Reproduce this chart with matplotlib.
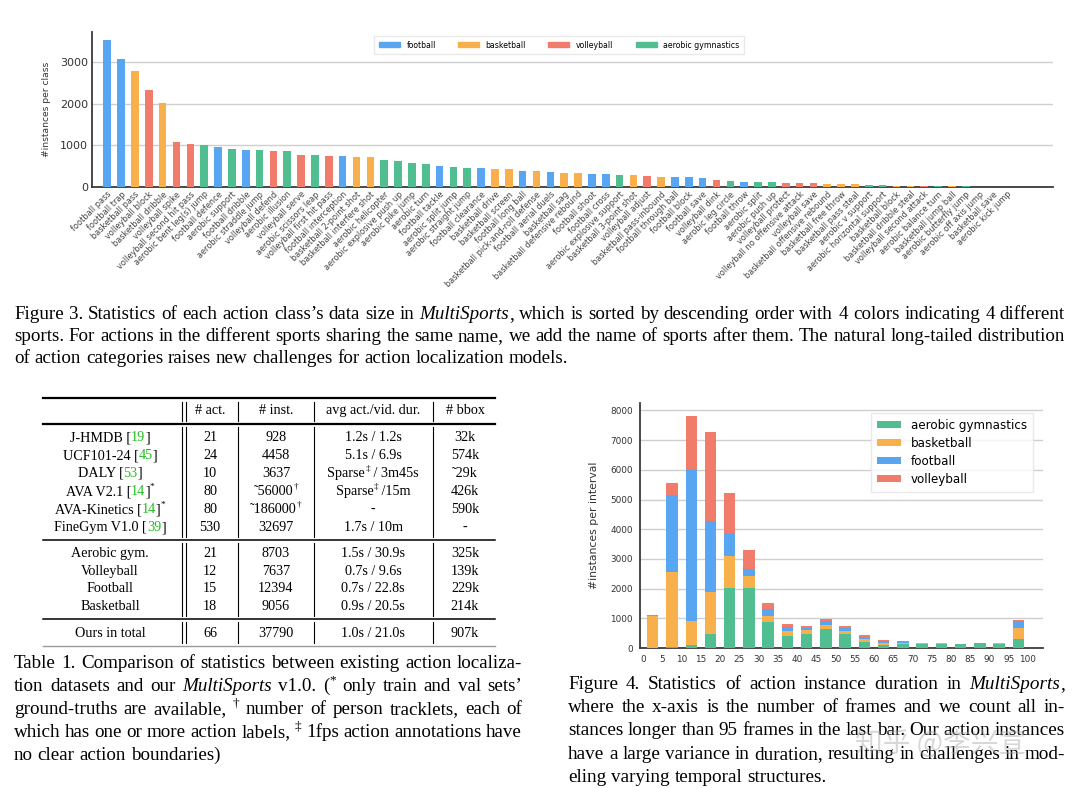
import matplotlib
matplotlib.use("Agg")
import matplotlib.pyplot as plt
import numpy as np
from matplotlib.patches import Patch
from matplotlib.font_manager import FontProperties, findfont

W, H = 1080, 788

# colores de los deportes
COL = {"F": "#58a6f2", "B": "#f8b04c", "V": "#f17c6b", "A": "#50be91"}
SPORT_NAME = {"F": "football", "B": "basketball", "V": "volleyball", "A": "aerobic gymnastics"}

# ── Figura 3: instancias por clase ──────────────────────────────────────────
clases = [
    "football pass", "football trap", "basketball pass", "volleyball block",
    "basketball dribble", "volleyball spike", "volleyball second hit pass",
    "aerobic bent leg(s) jump", "football defence", "aerobic support",
    "football dribble", "aerobic straddle jump", "volleyball defend",
    "aerobic illusion", "volleyball serve", "aerobic scissors leap",
    "volleyball first hit pass", "football interception", "basketball 2-point shot",
    "basketball interfere shot", "aerobic helicopter", "aerobic explosive push up",
    "aerobic pike jump", "aerobic turn", "football tackle", "aerobic split jump",
    "aerobic straight jump", "football clearance", "basketball drive",
    "basketball screen", "football long ball", "basketball pick-and-roll defense",
    "football aerial duels", "basketball sag", "basketball defensive rebound",
    "football shoot", "football cross", "aerobic explosive support",
    "basketball 3-point shot", "volleyball adjust", "basketball pass-inbound",
    "football through ball", "football block", "football save", "volleyball dink",
    "aerobic leg circle", "football throw", "aerobic split", "aerobic push up",
    "volleyball protect", "volleyball no offensive attack", "volleyball save",
    "basketball offensive rebound", "basketball free throw", "basketball pass steal",
    "aerobic v support", "aerobic horizontal support", "basketball block",
    "basketball dribble steal", "volleyball second attack", "aerobic balance turn",
    "basketball jump ball", "aerobic butterfly jump", "aerobic off axis jump",
    "basketball save", "aerobic kick jump",
]
deporte = list("FFBVBVVAFAFAVAVAVFBBAAAAFAAFBBFBFBBFFABVBFFFVAFAAVVVBBBAABBVABAABA")
instancias = [
    3530, 3080, 2785, 2320, 2015, 1070, 1025, 1000, 960, 905,
    888, 885, 865, 862, 776, 768, 752, 736, 712, 710,
    648, 616, 584, 552, 504, 480, 464, 448, 440, 424,
    392, 384, 366, 342, 336, 322, 320, 300, 295, 262,
    242, 240, 238, 225, 180, 145, 122, 116, 114, 100,
    95, 86, 80, 66, 64, 55, 50, 36, 32, 30,
    25, 20, 16, 12, 10, 8,
]

# ── Figura 4: duración de las instancias (pila por deporte) ────────────────
bins = list(range(0, 100, 5))
aerobic = [10, 20, 90, 480, 2020, 2020, 860, 400, 460, 655, 480, 200, 115, 140, 150, 145, 130, 155, 150, 300]
basket = [1060, 2540, 810, 1405, 1080, 390, 230, 175, 140, 115, 95, 90, 55, 20, 10, 10, 8, 10, 8, 380]
futbol = [20, 2580, 5080, 2390, 770, 260, 210, 130, 90, 130, 90, 80, 55, 50, 10, 8, 7, 10, 7, 240]
voley = [10, 415, 1830, 3000, 1350, 640, 215, 100, 60, 80, 60, 55, 30, 25, 10, 7, 5, 5, 5, 10]
ticks4 = list(range(0, 101, 5))

# ── Tabla 1 ────────────────────────────────────────────────────────────────
encabezado = ["# act.", "# inst.", "avg act./vid. dur.", "# bbox"]
nombres = [
    [("J-HMDB [", "k"), ("19", "g"), ("]", "k")],
    [("UCF101-24 [", "k"), ("45", "g"), ("]", "k")],
    [("DALY [", "k"), ("53", "g"), ("]", "k")],
    [("AVA V2.1 [", "k"), ("14", "g"), ("]", "k"), ("*", "s")],
    [("AVA-Kinetics [", "k"), ("14", "g"), ("]", "k"), ("*", "s")],
    [("FineGym V1.0 [", "k"), ("39", "g"), ("]", "k")],
    [("Aerobic gym.", "k")],
    [("Volleyball", "k")],
    [("Football", "k")],
    [("Basketball", "k")],
    [("Ours in total", "k")],
]
n_act = ["21", "24", "10", "80", "80", "530", "21", "12", "15", "18", "66"]
n_inst = [[("928", "k")], [("4458", "k")], [("3637", "k")],
          [("˜56000", "k"), ("†", "s")], [("˜186000", "k"), ("†", "s")],
          [("32697", "k")], [("8703", "k")], [("7637", "k")], [("12394", "k")],
          [("9056", "k")], [("37790", "k")]]
dur = [[("1.2s / 1.2s", "k")], [("5.1s / 6.9s", "k")],
       [("Sparse", "k"), ("‡", "s"), (" / 3m45s", "k")],
       [("Sparse", "k"), ("‡", "s"), (" /15m", "k")],
       [("-", "k")], [("1.7s / 10m", "k")], [("1.5s / 30.9s", "k")],
       [("0.7s / 9.6s", "k")], [("0.7s / 22.8s", "k")], [("0.9s / 20.5s", "k")],
       [("1.0s / 21.0s", "k")]]
bbox = ["32k", "574k", "˜29k", "426k", "590k", "-", "325k", "139k", "229k", "214k", "907k"]

cap3 = [
    "Figure 3. Statistics of each action class’s data size in MultiSports, which is sorted by descending order with 4 colors indicating 4 different",
    "sports. For actions in the different sports sharing the same name, we add the name of sports after them. The natural long-tailed distribution",
    "of action categories raises new challenges for action localization models.",
]
cap_t1 = [
    "Table 1. Comparison of statistics between existing action localiza-",
    "tion datasets and our MultiSports v1.0. (* only train and val sets’",
    "ground-truths are available, ^† number of person tracklets, each of",
    "which has one or more action labels, ^‡ 1fps action annotations have",
    "no clear action boundaries)",
]
cap4 = [
    "Figure 4. Statistics of action instance duration in MultiSports,",
    "where the x-axis is the number of frames and we count all in-",
    "stances longer than 95 frames in the last bar. Our action instances",
    "have a large variance in duration, resulting in challenges in mod-",
    "eling varying temporal structures.",
]

# fuentes fijadas por archivo para que no haya sustituciones
F_NORMAL = findfont(FontProperties(family="Liberation Serif"))
F_ITALIC = findfont(FontProperties(family="Liberation Serif", style="italic"))

fig = plt.figure(figsize=(W / 100, H / 100), dpi=100)
fig.patch.set_facecolor("white")
rend = fig.canvas.get_renderer()


def fx(x):
    return x / W


def fy(y):
    return 1 - y / H


def estilo_ejes(ax):
    ax.set_facecolor("white")
    for s in ["top", "right"]:
        ax.spines[s].set_visible(False)
    for s in ["left", "bottom"]:
        ax.spines[s].set_color("#3a3a3a")
        ax.spines[s].set_linewidth(1.3)
    ax.grid(True, axis="y", color="#cfcfcf", linewidth=1.0)
    ax.set_axisbelow(True)
    ax.tick_params(length=0, colors="#333333")


# ── dibujo figura 3 ────────────────────────────────────────────────────────
ax3 = fig.add_axes([fx(92), fy(187), (1053 - 92) / W, (187 - 32) / H])
estilo_ejes(ax3)
xs = np.arange(len(clases))
ax3.bar(xs, instancias, width=0.55, color=[COL[d] for d in deporte], zorder=3)
ax3.set_xlim(-1.1, 68.3)
ax3.set_ylim(0, 3720)
ax3.set_yticks([0, 1000, 2000, 3000])
ax3.tick_params(axis="y", labelsize=8, pad=3)
ax3.set_xticks(xs)
ax3.set_xticklabels(clases, rotation=45, ha="right", rotation_mode="anchor",
                    fontsize=5.9, color="#444444")
ax3.tick_params(axis="x", pad=2)
ax3.set_ylabel("#instances per class", fontsize=6.6, color="#333333", labelpad=6)
ax3.legend(handles=[Patch(color=COL[k], label=SPORT_NAME[k]) for k in "FBVA"],
           loc="upper center", bbox_to_anchor=(0.486, 1.0), ncol=4, fontsize=5.6,
           handlelength=2.7, handleheight=0.6, columnspacing=2.9, frameon=True,
           edgecolor="#e4e4e4", fancybox=False, borderpad=0.6)

# ── dibujo figura 4 ────────────────────────────────────────────────────────
ax4 = fig.add_axes([fx(640), fy(648), (1043 - 640) / W, (648 - 403) / H])
estilo_ejes(ax4)
centros = np.array(bins) + 2.5
base = np.zeros(len(bins))
for vals, k in [(aerobic, "A"), (basket, "B"), (futbol, "F"), (voley, "V")]:
    ax4.bar(centros, vals, width=2.95, bottom=base, color=COL[k],
            label=SPORT_NAME[k], zorder=3)
    base = base + np.array(vals)
ax4.set_xlim(-0.8, 103.9)
ax4.set_ylim(0, 8250)
ax4.set_xticks(ticks4)
ax4.set_yticks(range(0, 8001, 1000))
ax4.tick_params(axis="both", labelsize=6.4, pad=5)
ax4.set_ylabel("#instances per interval", fontsize=7.8, color="#333333", labelpad=8)
ax4.legend(loc="upper right", bbox_to_anchor=(0.99, 0.985), fontsize=8.6,
           handlelength=2.0, handleheight=0.6, labelspacing=0.42, frameon=True,
           edgecolor="#e4e4e4", fancybox=False, borderpad=0.5)


# ── texto del artículo ─────────────────────────────────────────────────────
def prop(size, italic=False):
    return FontProperties(fname=F_ITALIC if italic else F_NORMAL, size=size)


def medir(txt, size, italic=False):
    w, _, _ = rend.get_text_width_height_descent(txt, prop(size, italic), ismath=False)
    return w


def partes(tok):
    if tok.startswith("MultiSports"):
        out = [("MultiSports", "i")]
        if len(tok) > 11:
            out.append((tok[11:], "n"))
        return out
    if tok.startswith("^"):
        return [(tok[1:], "s")]
    if tok == "(*":
        return [("(", "n"), ("*", "s")]
    return [(tok, "n")]


def piezas_linea(linea, size):
    grupos, anchos = [], []
    for tok in linea.split():
        g, w = [], 0
        for txt, st in partes(tok):
            sz = size * (0.7 if st == "s" else 1)
            g.append((txt, st, sz, w))
            w += medir(txt, sz, st == "i")
        grupos.append(g)
        anchos.append(w)
    return grupos, anchos


def parrafo(lineas, x0, x1, y0, dy, size):
    # ajusta el tamaño para que la línea más apretada tenga espacio normal
    k = 1.0
    em = size * 100 / 72
    for linea in lineas[:-1]:
        grupos, anchos = piezas_linea(linea, size)
        k = min(k, (x1 - x0) / (sum(anchos) + 0.24 * em * (len(grupos) - 1)))
    size = size * k
    em = size * 100 / 72
    for i, linea in enumerate(lineas):
        y = y0 + i * dy
        grupos, anchos = piezas_linea(linea, size)
        if i == len(lineas) - 1:
            hueco = 0.25 * em
        else:
            hueco = (x1 - x0 - sum(anchos)) / (len(grupos) - 1)
        x = x0
        for g, w in zip(grupos, anchos):
            for txt, st, sz, off in g:
                yy = y - 0.38 * em if st == "s" else y
                fig.text(fx(x + off), fy(yy), txt, va="baseline",
                         fontproperties=prop(sz, st == "i"))
            x += w + hueco


def celda(piezas, xc, y, size):
    em = size * 100 / 72
    lista, w = [], 0
    for txt, c in piezas:
        sz = size * (0.65 if c == "s" else 1)
        lista.append((txt, c, sz, w))
        w += medir(txt, sz)
    for txt, c, sz, off in lista:
        color = "#1fc01f" if c == "g" else "black"
        yy = y - 0.4 * em if c == "s" else y
        fig.text(fx(xc - w / 2 + off), fy(yy), txt, va="baseline", color=color,
                 fontproperties=prop(sz))


parrafo(cap3, 14, 1065, 319, 21.8, 16.0)
parrafo(cap_t1, 14, 522, 668, 23.0, 16.0)
parrafo(cap4, 568, 1065, 689, 23.2, 16.0)

# tabla
TS = 10.2
cols = [110, 210, 276, 373, 465]
filas_y = [441, 459, 477, 495, 513, 531, 557, 575, 592, 610, 637]
for txt, xc in zip(encabezado, cols[1:]):
    celda([(txt, "k")], xc, 414, TS)
for j in range(len(n_act)):
    y = filas_y[j]
    celda(nombres[j], cols[0], y, TS)
    celda([(n_act[j], "k")], cols[1], y, TS)
    celda(n_inst[j], cols[2], y, TS)
    celda(dur[j], cols[3], y, TS)
    celda([(bbox[j], "k")], cols[4], y, TS)

reglas = [(398, 1.6, "black"), (424, 1.6, "black"), (540, 1.1, "black"),
          (619, 1.1, "black"), (646, 1.0, "#9a9a9a")]
for y, lw, c in reglas:
    fig.add_artist(plt.Line2D([fx(43), fx(495)], [fy(y), fy(y)], lw=lw, color=c))
bloques = [(402, 421), (427, 537), (543, 616), (622, 643)]
for y0, y1 in bloques:
    for xv in [182, 185.5, 238, 314, 433]:
        fig.add_artist(plt.Line2D([fx(xv), fx(xv)], [fy(y0), fy(y1)], lw=0.8, color="black"))

# marca de agua
fig.text(fx(855), fy(752), "知乎 @李兴宣", fontsize=20, color="#a8a8a8", alpha=0.45,
         family=["Noto Sans CJK SC", "DejaVu Sans"])

fig.savefig("out.png", dpi=100, facecolor="white")
